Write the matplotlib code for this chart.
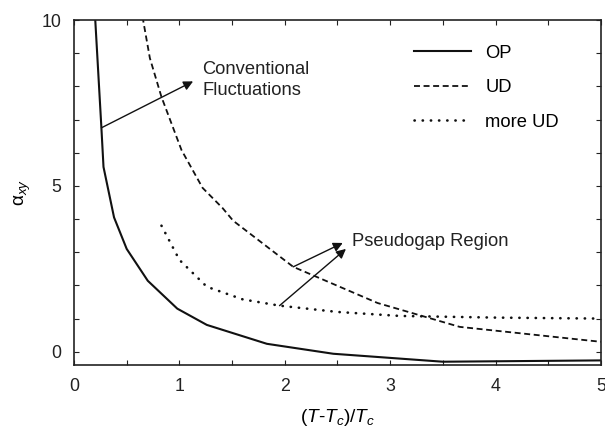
import numpy as np
import matplotlib
matplotlib.use('Agg')
import matplotlib.pyplot as plt
from matplotlib.ticker import MultipleLocator

plt.rcParams['font.family'] = 'Liberation Sans'
plt.rcParams['mathtext.fontset'] = 'custom'
plt.rcParams['mathtext.rm'] = 'Liberation Sans'
plt.rcParams['mathtext.it'] = 'Liberation Sans:italic'
plt.rcParams['font.size'] = 13.2

# Hall angle curves for the three doping levels
op_x = [0.20, 0.26, 0.28, 0.38, 0.50, 0.70, 0.98, 1.26, 1.83, 2.46, 3.50, 5.00]
op_y = [10.1, 6.75, 5.57, 4.05, 3.10, 2.14, 1.30, 0.81, 0.24, -0.06, -0.30, -0.26]

ud_x = [0.65, 0.72, 0.83, 1.02, 1.22, 1.41, 1.51, 2.08, 2.88, 3.66, 5.00]
ud_y = [10.1, 8.85, 7.68, 6.08, 4.94, 4.33, 3.95, 2.56, 1.47, 0.75, 0.30]

mud_x = [0.83, 1.00, 1.26, 1.60, 1.95, 2.50, 3.09, 4.00, 5.00]
mud_y = [3.80, 2.77, 1.96, 1.58, 1.39, 1.20, 1.08, 1.03, 1.00]

fig = plt.figure(figsize=(6.05, 4.32), dpi=100)
ax = fig.add_axes([0.1223, 0.155, 0.8711, 0.7987])

ax.plot(op_x, op_y, color='#111111', lw=1.5, label='OP')
ax.plot(ud_x, ud_y, color='#111111', lw=1.3, linestyle=(0, (3.3, 2.0)), label='UD')
ax.plot(mud_x, mud_y, color='#111111', lw=1.9, linestyle=(0, (0.1, 3.0)),
        dash_capstyle='round', label='more UD')

ax.set_xlim(0, 5)
ax.set_ylim(-0.4, 10)
ax.xaxis.set_major_locator(MultipleLocator(1))
ax.xaxis.set_minor_locator(MultipleLocator(0.5))
ax.yaxis.set_major_locator(MultipleLocator(5))
ax.yaxis.set_minor_locator(MultipleLocator(1))
ax.tick_params(which='both', direction='in', top=True, right=True,
               length=3.6, width=0.8, colors='#222222')
ax.tick_params(axis='both', pad=9, labelsize=12.8)
for s in ax.spines.values():
    s.set_linewidth(1.2)
    s.set_color('#222222')

ax.set_xlabel('$(T$-$T_c)/T_c$', fontsize=13.8, labelpad=9)
ax.set_ylabel(r'$\mathregular{\alpha}_{xy}$', fontsize=13.8, labelpad=6)

leg = ax.legend(loc='upper left', bbox_to_anchor=(0.645, 0.928), frameon=False,
                handlelength=3.1, handletextpad=0.8, labelspacing=0.95,
                borderpad=0, borderaxespad=0)

arrow = dict(arrowstyle='-|>', color='#111111', lw=1.0, mutation_scale=14,
             shrinkA=0, shrinkB=0)
ax.annotate('', xy=(1.13, 8.15), xytext=(0.26, 6.75), arrowprops=arrow)
ax.text(1.22, 8.19, 'Conventional\nFluctuations', ha='left', va='center',
        linespacing=1.3, color='#222222')

ax.annotate('', xy=(2.55, 3.28), xytext=(2.08, 2.56), arrowprops=arrow)
ax.annotate('', xy=(2.58, 3.10), xytext=(1.95, 1.39), arrowprops=arrow)
ax.text(2.64, 3.31, 'Pseudogap Region', ha='left', va='center', color='#222222')

fig.savefig('out.png', dpi=100)
